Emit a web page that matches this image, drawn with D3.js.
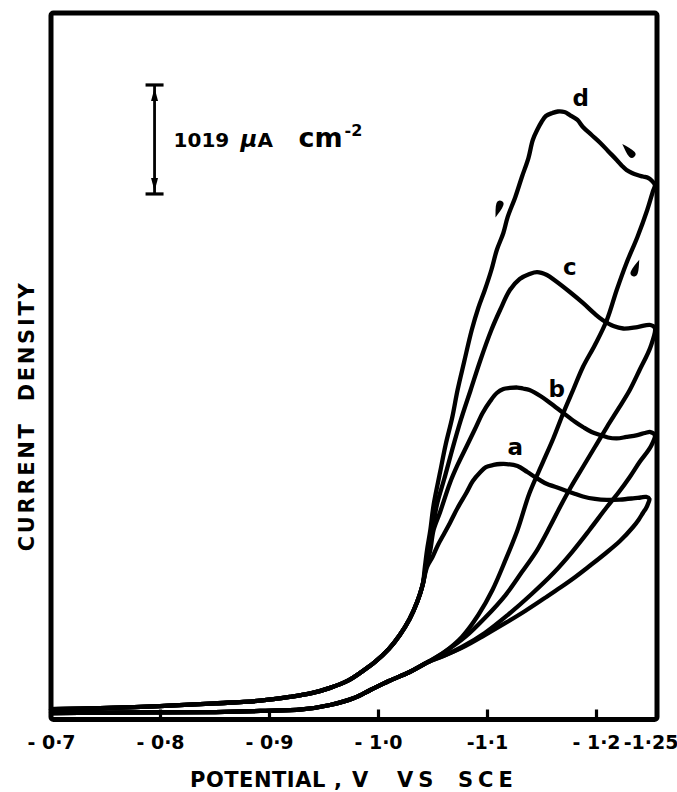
<!DOCTYPE html>
<html>
<head>
<meta charset="utf-8">
<script src="https://cdn.jsdelivr.net/npm/d3@7"></script>
<style>
  html, body { margin: 0; padding: 0; background: #fff; }
  svg { display: block; }
</style>
</head>
<body>
<svg id="chart" width="677" height="792"></svg>
<script>
// ---- axis ticks (potential, V vs SCE) ----
const tickValues = [-0.7, -0.8, -0.9, -1.0, -1.1, -1.2, -1.25];
const tickLabels = ["- 0·7", "- 0·8", "- 0·9", "- 1·0", "-1·1", "- 1·2", "-1·25"];
const markedTicks = [-0.8, -0.9, -1.0, -1.1, -1.2];

// ---- voltammograms, points are [E (V), j (µA cm-2)] ----
// onset of the cathodic sweep, common to all four runs
const sweepOnset = [[-0.700,35],[-0.745,45],[-0.800,65],[-0.851,90],[-0.892,115],[-0.919,150],
  [-0.939,185],[-0.956,235],[-0.972,300],[-0.985,385],[-0.997,475],[-1.010,600],[-1.020,730],
  [-1.029,880],[-1.036,1040],[-1.041,1200]];
// tail of the return sweep, common to all four runs
const returnTail = [[-1.046,477],[-1.029,383],[-1.010,299],[-0.993,215],[-0.978,140],[-0.956,75],
  [-0.930,33],[-0.892,19],[-0.851,9],[-0.791,5],[-0.700,0]];

const forwardA = [[-1.045,1365],[-1.050,1459],[-1.055,1571],[-1.061,1683],[-1.066,1777],[-1.073,1917],
  [-1.081,2057],[-1.087,2169],[-1.094,2253],[-1.099,2300],[-1.106,2319],[-1.112,2328],[-1.118,2328],
  [-1.128,2309],[-1.137,2253],[-1.144,2207],[-1.153,2151],[-1.167,2099],[-1.181,2048],[-1.188,2024],
  [-1.199,2001],[-1.210,1992],[-1.222,1996],[-1.234,2007],[-1.241,2015],[-1.246,2020],[-1.249,2001],
  [-1.248,1964]];
const reverseA = [[-1.246,1917],[-1.243,1870],[-1.239,1805],[-1.234,1739],[-1.222,1608],[-1.208,1487],
  [-1.194,1374],[-1.181,1272],[-1.168,1178],[-1.153,1075],[-1.135,954],[-1.117,842],[-1.098,729],
  [-1.080,626],[-1.062,542]];

const forwardB = [[-1.044,1365],[-1.048,1524],[-1.051,1711],[-1.057,1879],[-1.066,2151],[-1.073,2319],
  [-1.081,2487],[-1.089,2655],[-1.096,2805],[-1.103,2917],[-1.109,2992],[-1.115,3029],[-1.121,3039],
  [-1.128,3043],[-1.133,3034],[-1.139,3020],[-1.149,2964],[-1.158,2899],[-1.170,2805],[-1.181,2721],
  [-1.188,2674],[-1.196,2627],[-1.204,2599],[-1.211,2576],[-1.219,2567],[-1.228,2581],[-1.238,2599],
  [-1.245,2618],[-1.250,2627],[-1.254,2599]];
const reverseB = [[-1.250,2487],[-1.240,2347],[-1.231,2207],[-1.221,2066],[-1.210,1926],[-1.194,1711],
  [-1.178,1505],[-1.161,1309],[-1.141,1113],[-1.119,916],[-1.098,748],[-1.077,617],[-1.060,533]];

const forwardC = [[-1.044,1365],[-1.047,1524],[-1.050,1711],[-1.054,1945],[-1.061,2197],[-1.068,2459],
  [-1.076,2740],[-1.085,3020],[-1.094,3301],[-1.104,3581],[-1.112,3768],[-1.121,3955],[-1.130,4058],
  [-1.139,4105],[-1.146,4123],[-1.155,4095],[-1.163,4039],[-1.176,3936],[-1.188,3834],[-1.199,3731],
  [-1.206,3675],[-1.216,3618],[-1.225,3595],[-1.238,3609],[-1.250,3628],[-1.254,3600]];
const reverseC = [[-1.250,3422],[-1.240,3207],[-1.231,3020],[-1.221,2852],[-1.210,2674],[-1.199,2487],
  [-1.188,2300],[-1.177,2113],[-1.167,1926],[-1.158,1748],[-1.146,1524],[-1.132,1318],[-1.117,1103],
  [-1.098,888],[-1.080,711],[-1.061,570]];

const forwardD = [[-1.043,1365],[-1.045,1524],[-1.048,1711],[-1.051,1945],[-1.057,2253],[-1.062,2506],
  [-1.068,2758],[-1.073,3020],[-1.079,3282],[-1.086,3581],[-1.092,3787],[-1.098,3955],[-1.104,4142],
  [-1.109,4329],[-1.115,4488],[-1.119,4638],[-1.126,4825],[-1.132,5012],[-1.138,5189],[-1.142,5358],
  [-1.146,5451],[-1.150,5526],[-1.154,5582],[-1.160,5610],[-1.165,5624],[-1.171,5619],[-1.176,5591],
  [-1.183,5545],[-1.188,5479],[-1.196,5404],[-1.204,5330],[-1.211,5255],[-1.219,5171],[-1.224,5114],
  [-1.228,5077],[-1.233,5049],[-1.238,5030],[-1.243,5016],[-1.248,5002],[-1.251,4979],[-1.254,4937]];
const reverseD = [[-1.252,4871],[-1.247,4703],[-1.238,4451],[-1.228,4208],[-1.219,3955],[-1.210,3675],
  [-1.199,3441],[-1.188,3235],[-1.179,3020],[-1.170,2805],[-1.161,2571],[-1.151,2338],[-1.139,2057],
  [-1.128,1711],[-1.117,1431],[-1.105,1150],[-1.092,916],[-1.077,711],[-1.061,570]];

// curve letters and where they sit
const curveNames = ["a", "b", "c", "d"];
const curveLabelE = [-1.126, -1.164, -1.176, -1.186];
const curveLabelJ = [2412, 2955, 4095, 5675];

// sweep-direction arrows beside curve d
const arrowE = [-1.111, -1.231, -1.236];
const arrowJ = [4731, 5245, 4142];

// current scale bar
const scaleBarE = -0.795;
const scaleBarBase = 4853;
const scaleBarSpan = 1019;

// ---- drawing ----
const FONT = "'DejaVu Sans', 'Liberation Sans', sans-serif";
const svg = d3.select("#chart");
const frame = { left: 51, right: 657, top: 13, bottom: 719.5 };

const x = d3.scaleLinear().domain([-0.7, -1.2]).range([51, 596]);
const y = d3.scaleLinear().domain([0, 6000]).range([713, 713 - 6000 / 9.35]);

// plot frame
svg.append("rect")
  .attr("x", frame.left).attr("y", frame.top)
  .attr("width", frame.right - frame.left).attr("height", frame.bottom - frame.top)
  .attr("rx", 2.5)
  .attr("fill", "none").attr("stroke", "#000").attr("stroke-width", 5);

// tick marks pointing into the plot
const tickG = svg.append("g").attr("transform", `translate(0,${frame.bottom})`)
  .call(d3.axisBottom(x).tickValues(markedTicks).tickSize(-10).tickFormat(""));
tickG.select(".domain").remove();
tickG.selectAll(".tick line").attr("stroke", "#000").attr("stroke-width", 3.2);

// tick labels
const labG = svg.append("g").attr("transform", `translate(0,${frame.bottom})`)
  .call(d3.axisBottom(x).tickValues(tickValues).tickSize(0).tickPadding(16.5)
    .tickFormat(d => tickLabels[tickValues.indexOf(d)]));
labG.select(".domain").remove();
labG.selectAll(".tick line").remove();
labG.selectAll("text")
  .attr("font-family", FONT).attr("font-size", 19).attr("font-weight", "bold")
  .attr("fill", "#000").style("white-space", "pre");

// voltammetric loops
const loops = [
  sweepOnset.concat(forwardA, reverseA, returnTail),
  sweepOnset.concat(forwardB, reverseB, returnTail),
  sweepOnset.concat(forwardC, reverseC, returnTail),
  sweepOnset.concat(forwardD, reverseD, returnTail)
];
const line = d3.line()
  .x(d => x(d[0])).y(d => y(d[1]))
  .curve(d3.curveCatmullRom.alpha(0.5));

svg.append("g").selectAll("path").data(loops).join("path")
  .attr("d", line)
  .attr("fill", "none").attr("stroke", "#000")
  .attr("stroke-width", 4.3)
  .attr("stroke-linejoin", "round").attr("stroke-linecap", "round");

// curve letters
svg.append("g").selectAll("text").data(curveNames).join("text")
  .attr("x", (d, i) => x(curveLabelE[i]))
  .attr("y", (d, i) => y(curveLabelJ[i]))
  .attr("text-anchor", "middle")
  .attr("font-family", FONT).attr("font-size", 23).attr("font-weight", "bold")
  .attr("fill", "#000")
  .text(d => d);

// arrows follow the travel direction of loop d
const loopD = loops[3].map(p => [x(p[0]), y(p[1])]);
const arrows = arrowE.map((e, k) => {
  const px = x(e), py = y(arrowJ[k]);
  let best = 1, bd = Infinity;
  for (let i = 1; i < loopD.length - 1; i++) {
    const dd = (loopD[i][0] - px) ** 2 + (loopD[i][1] - py) ** 2;
    if (dd < bd) { bd = dd; best = i; }
  }
  const a = loopD[best - 1], b = loopD[best + 1];
  return { px, py, ang: Math.atan2(b[1] - a[1], b[0] - a[0]) * 180 / Math.PI };
});
svg.append("g").selectAll("path").data(arrows).join("path")
  .attr("transform", d => `translate(${d.px},${d.py}) rotate(${d.ang})`)
  .attr("d", "M-11,0 C-6,-1.6 -1,-3.6 3,-3.6 A3.6,3.6 0 0 1 3,3.6 C-1,3.6 -6,1.6 -11,0 Z")
  .attr("fill", "#000");

// scale bar
const sbX = x(scaleBarE);
const sbTop = y(scaleBarBase + scaleBarSpan), sbBot = y(scaleBarBase);
const sb = svg.append("g").attr("stroke", "#000").attr("fill", "#000");
sb.append("line").attr("x1", sbX).attr("x2", sbX).attr("y1", sbTop).attr("y2", sbBot)
  .attr("stroke-width", 2.8);
[sbTop, sbBot].forEach(yy => {
  sb.append("line").attr("x1", sbX - 9).attr("x2", sbX + 9).attr("y1", yy).attr("y2", yy)
    .attr("stroke-width", 3.2);
});
sb.append("path").attr("stroke", "none")
  .attr("d", `M${sbX},${sbTop + 3} L${sbX + 3.5},${sbTop + 16} L${sbX - 3.5},${sbTop + 16} Z`);
sb.append("path").attr("stroke", "none")
  .attr("d", `M${sbX},${sbBot - 3} L${sbX + 3.5},${sbBot - 16} L${sbX - 3.5},${sbBot - 16} Z`);

const sbMid = (sbTop + sbBot) / 2;
const sbText = svg.append("text")
  .attr("font-family", FONT).attr("font-weight", "bold").attr("fill", "#000")
  .attr("y", sbMid + 8);
sbText.append("tspan").attr("x", sbX + 19).attr("font-size", 20).text(String(scaleBarSpan));
sbText.append("tspan").attr("x", sbX + 86).attr("font-size", 23).attr("font-style", "italic").text("µ");
sbText.append("tspan").attr("font-size", 20).text("A");
sbText.append("tspan").attr("x", sbX + 144).attr("font-size", 27).text("cm");
sbText.append("tspan").attr("x", sbX + 190).attr("dy", -11).attr("font-size", 16).text("-2");

// axis titles
const xt = svg.append("text").attr("y", 787)
  .attr("font-family", FONT).attr("font-weight", "bold").attr("font-size", 21).attr("fill", "#000");
[["POTENTIAL", 190, 0.5], [",", 334, 0], ["V", 352, 0], ["VS", 397, 5], ["SCE", 458, 5]].forEach(w => {
  xt.append("tspan").attr("x", w[1]).attr("letter-spacing", w[2]).text(w[0]);
});

svg.append("text")
  .attr("transform", "translate(34,416) rotate(-90)")
  .attr("text-anchor", "middle")
  .attr("font-family", FONT).attr("font-weight", "bold").attr("font-size", 21)
  .attr("letter-spacing", 2.7).attr("fill", "#000")
  .style("white-space", "pre")
  .text("CURRENT  DENSITY");
</script>
</body>
</html>
